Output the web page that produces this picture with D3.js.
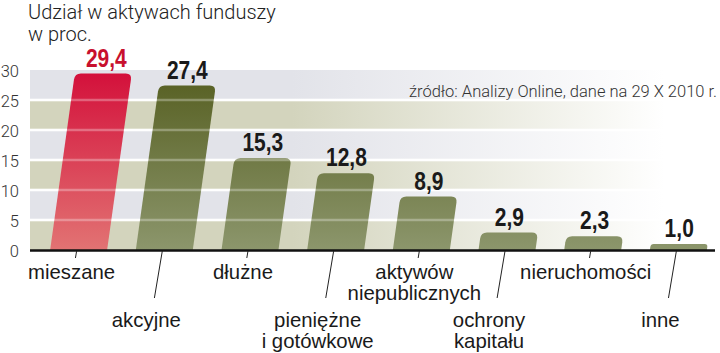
<!DOCTYPE html>
<html>
<head>
<meta charset="utf-8">
<script src="https://cdn.jsdelivr.net/npm/d3@7"></script>
<style>
  body { margin: 0; background: #fff; }
  svg { display: block; }
</style>
</head>
<body>
<script>
const svgWidth = 720
const svgHeight = 353

// data
const categories = ["mieszane", "akcyjne", "dłużne", "pieniężne i gotówkowe",
    "aktywów niepublicznych", "ochrony kapitału", "nieruchomości", "inne"]
const categoryLines = [["mieszane"], ["akcyjne"], ["dłużne"], ["pieniężne", "i gotówkowe"],
    ["aktywów", "niepublicznych"], ["ochrony", "kapitału"], ["nieruchomości"], ["inne"]]
const values = [29.4, 27.4, 15.3, 12.8, 8.9, 2.9, 2.3, 1.0]
const yTicks = [0, 5, 10, 15, 20, 25, 30]
const titleLines = ["Udział w aktywach funduszy", "w proc."]
const sourceText = "źródło: Analizy Online, dane na 29 X 2010 r."

const axisLeftX = 30
const axisRightX = 715
const skew = 0.14

const narrow = "'Liberation Sans', Arial, sans-serif"
const light = "Roboto, Lato, 'Open Sans', sans-serif"

const plFormat = d3.formatLocale({ decimal: ",", thousands: " ", grouping: [3], currency: ["", " zł"] }).format(".1f")

const svg = d3.select("body").append("svg")
    .attr("width", svgWidth)
    .attr("height", svgHeight)

const x = d3.scaleBand()
    .domain(categories)
    .range([axisLeftX, 727])
    .paddingInner(0.335)
    .paddingOuter(0.235)

const y = d3.scaleLinear()
    .domain([0, 30])
    .range([250, 70])

const defs = svg.append("defs")

function bandGradient(id, color) {
    const g = defs.append("linearGradient").attr("id", id)
        .attr("x1", "0%").attr("x2", "100%").attr("y1", "0%").attr("y2", "0%")
    g.append("stop").attr("offset", "0%").attr("stop-color", color).attr("stop-opacity", 1)
    g.append("stop").attr("offset", "38%").attr("stop-color", color).attr("stop-opacity", 1)
    g.append("stop").attr("offset", "92%").attr("stop-color", color).attr("stop-opacity", 0)
}
bandGradient("bandBeige", "#d3d4bd")
bandGradient("bandGrey", "#e2e3e9")

function barGradient(id, top, bottom) {
    const g = defs.append("linearGradient").attr("id", id)
        .attr("gradientUnits", "userSpaceOnUse")
        .attr("x1", 0).attr("x2", 0).attr("y1", y(30)).attr("y2", y(0))
    g.append("stop").attr("offset", "0%").attr("stop-color", top)
    g.append("stop").attr("offset", "100%").attr("stop-color", bottom)
}
barGradient("barRed", "#d30f3a", "#e27373")
barGradient("barGreen", "#555e20", "#8c966c")

// background bands
const bandStarts = yTicks.slice(0, -1)
svg.append("g").selectAll("rect")
    .data(bandStarts)
    .join("rect")
    .attr("x", axisLeftX)
    .attr("width", svgWidth - axisLeftX)
    .attr("y", d => y(d + 5))
    .attr("height", d => y(d) - y(d + 5))
    .attr("fill", (d, i) => i % 2 === 0 ? "url(#bandBeige)" : "url(#bandGrey)")

function drawGrid(opacity) {
    svg.append("g").selectAll("line")
        .data(yTicks.slice(1, -1))
        .join("line")
        .attr("x1", axisLeftX)
        .attr("x2", svgWidth)
        .attr("y1", d => y(d))
        .attr("y2", d => y(d))
        .attr("stroke", "#fff")
        .attr("stroke-opacity", opacity)
        .attr("stroke-width", 2.5)
}
drawGrid(1)

// y tick labels
svg.append("g").selectAll("text")
    .data(yTicks)
    .join("text")
    .attr("x", 19)
    .attr("y", d => y(d))
    .attr("dy", "0.42em")
    .attr("text-anchor", "end")
    .attr("font-family", light)
    .attr("font-weight", 300)
    .attr("font-size", 16.5)
    .attr("fill", "#333")
    .text(d => d)

// title
svg.append("g").selectAll("text")
    .data(titleLines)
    .join("text")
    .attr("x", 28)
    .attr("y", (d, i) => 19 + i * 22)
    .attr("font-family", light)
    .attr("font-weight", 300)
    .attr("font-size", 20)
    .attr("fill", "#222")
    .text(d => d)

// source
svg.append("text")
    .attr("x", 717)
    .attr("y", 97)
    .attr("text-anchor", "end")
    .attr("font-family", light)
    .attr("font-weight", 300)
    .attr("font-size", 16.5)
    .attr("fill", "#333")
    .text(sourceText)

// slanted bars with rounded tops
function barPath(c, v) {
    const y0 = y(0), yt = y(v)
    const x0 = x(c), w = x.bandwidth()
    const s = skew * (y0 - yt)
    const r = Math.min(6, (y0 - yt) / 2)
    const p = d3.path()
    p.moveTo(x0, y0)
    p.lineTo(x0 + w, y0)
    p.lineTo(x0 + w + s - skew * r, yt + r)
    p.quadraticCurveTo(x0 + w + s, yt, x0 + w + s - r, yt)
    p.lineTo(x0 + s + r, yt)
    p.quadraticCurveTo(x0 + s, yt, x0 + s - skew * r, yt + r)
    p.closePath()
    return p.toString()
}

svg.append("g").selectAll("path")
    .data(categories)
    .join("path")
    .attr("d", (c, i) => barPath(c, values[i]))
    .attr("fill", (c, i) => i === 0 ? "url(#barRed)" : "url(#barGreen)")

drawGrid(0.3)

// value labels (condensed bold)
svg.append("g").selectAll("text")
    .data(categories)
    .join("text")
    .attr("transform", (c, i) => {
        const lx = x(c) + x.bandwidth() / 2 + skew * (y(0) - y(values[i])) + (i === 0 ? 3 : 0)
        const ly = y(values[i]) - 7
        return `translate(${lx}, ${ly}) scale(0.84, 1)`
    })
    .attr("text-anchor", "middle")
    .attr("font-family", narrow)
    .attr("font-weight", "bold")
    .attr("font-size", 25)
    .attr("fill", (c, i) => i === 0 ? "#c8102e" : "#1a1a1a")
    .text((c, i) => plFormat(values[i]))

// baseline
svg.append("line")
    .attr("x1", axisLeftX)
    .attr("x2", axisRightX)
    .attr("y1", y(0) + 0.5)
    .attr("y2", y(0) + 0.5)
    .attr("stroke", "#111")
    .attr("stroke-width", 2.5)

// leader lines and category labels
const cx = c => x(c) + x.bandwidth() / 2 - 2
const lineLen = i => i % 2 === 0 ? 7 : 47

svg.append("g").selectAll("line")
    .data(categories)
    .join("line")
    .attr("x1", c => cx(c))
    .attr("y1", y(0) + 1)
    .attr("x2", (c, i) => cx(c) - skew * 1.2 * lineLen(i))
    .attr("y2", (c, i) => y(0) + 1 + lineLen(i))
    .attr("stroke", "#222")
    .attr("stroke-width", 1)

const labelG = svg.append("g").selectAll("text")
    .data(categories)
    .join("text")
    .attr("text-anchor", "middle")
    .attr("font-family", narrow)
    .attr("font-size", 21)
    .attr("fill", "#1a1a1a")
    .attr("transform", (c, i) => {
        const lx = i % 2 === 0 ? cx(c) - 5 : cx(c) - 16
        const ly = i % 2 === 0 ? 279 : 327
        return `translate(${lx}, ${ly}) scale(0.97, 1)`
    })

labelG.selectAll("tspan")
    .data((c, i) => categoryLines[i])
    .join("tspan")
    .attr("x", 0)
    .attr("dy", (d, j) => j === 0 ? 0 : 21)
    .text(d => d)
</script>
</body>
</html>
